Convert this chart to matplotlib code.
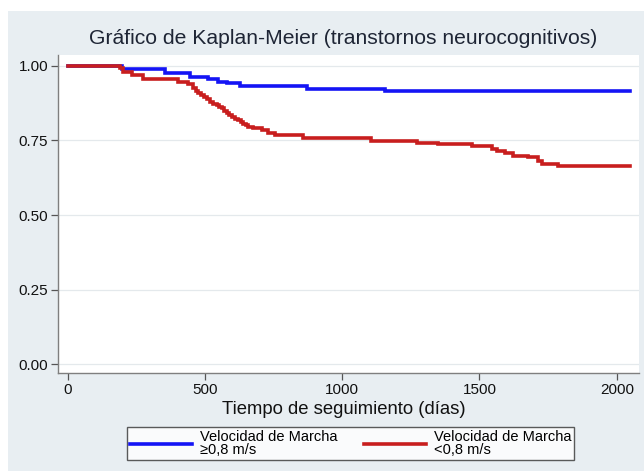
import matplotlib
matplotlib.use("Agg")
import matplotlib.pyplot as plt
from matplotlib.patches import Rectangle

plt.rcParams['font.family'] = ['Liberation Sans', 'DejaVu Sans']

# Kaplan-Meier step data (time in days, survival probability)
t_fast = [0, 197, 355, 446, 512, 548, 581, 628, 872, 1156, 2048]
s_fast = [1.000, 0.989, 0.975, 0.961, 0.954, 0.946, 0.941, 0.932, 0.921, 0.915, 0.915]

t_slow = [0, 191, 203, 234, 275, 402, 439, 458, 467, 476, 486, 495, 507, 519,
          531, 543, 552, 561, 570, 580, 589, 598, 610, 622, 631, 640, 649, 658,
          677, 707, 731, 756, 859, 1105, 1272, 1349, 1472, 1545, 1563, 1593,
          1622, 1677, 1713, 1727, 1786, 2048]
s_slow = [1.000, 0.991, 0.980, 0.969, 0.954, 0.946, 0.939, 0.924, 0.916, 0.908,
          0.902, 0.896, 0.887, 0.879, 0.873, 0.868, 0.862, 0.857, 0.849, 0.841,
          0.835, 0.829, 0.823, 0.818, 0.811, 0.804, 0.800, 0.796, 0.790, 0.785,
          0.774, 0.768, 0.759, 0.749, 0.742, 0.737, 0.732, 0.720, 0.714, 0.707,
          0.698, 0.693, 0.681, 0.671, 0.664, 0.664]

labels = ["Velocidad de Marcha\n\u22650,8 m/s", "Velocidad de Marcha\n<0,8 m/s"]
x_ticks = [0, 500, 1000, 1500, 2000]
y_ticks = [0.00, 0.25, 0.50, 0.75, 1.00]

title = "Gráfico de Kaplan-Meier (transtornos neurocognitivos)"
xlabel = "Tiempo de seguimiento (días)"

W, H = 644, 471
bg = "#e8eef2"
fig = plt.figure(figsize=(W / 100, H / 100), dpi=100, facecolor=bg)

# white screenshot borders
fig.patches.append(Rectangle((0, 1 - 11 / H), 1, 11 / H, transform=fig.transFigure,
                             facecolor="white", edgecolor="none", zorder=-1))
fig.patches.append(Rectangle((0, 0), 8 / W, 1, transform=fig.transFigure,
                             facecolor="white", edgecolor="none", zorder=-1))

ax = fig.add_axes([58 / W, 1 - 373 / H, (639 - 58) / W, (373 - 55) / H])
ax.set_facecolor("white")

ax.step(t_fast, s_fast, where="post", color="#1414f5", lw=2.6, label=labels[0],
        solid_joinstyle="miter")
ax.step(t_slow, s_slow, where="post", color="#c81e1e", lw=2.6, label=labels[1],
        solid_joinstyle="miter")

ax.set_xlim(-35, 2081)
ax.set_ylim(-0.029, 1.036)
ax.set_xticks(x_ticks)
ax.set_xticklabels([str(v) for v in x_ticks])
ax.set_yticks(y_ticks)
ax.set_yticklabels([f"{v:.2f}" for v in y_ticks])

for v in y_ticks:
    ax.axhline(v, color="#e4e9ec", lw=0.9, zorder=0)

for side in ["top", "right"]:
    ax.spines[side].set_visible(False)
for side in ["left", "bottom"]:
    ax.spines[side].set_color("#7f7f7f")
    ax.spines[side].set_linewidth(1.0)

ax.tick_params(axis="both", direction="out", length=5, width=0.9, color="#555555",
               labelsize=11, labelcolor="#111111", pad=2)

fig.text(343 / W, 1 - 38 / H, title, ha="center", va="center", fontsize=15.2,
         color="#1e2535")
fig.text(344 / W, 1 - 409 / H, xlabel, ha="center", va="center", fontsize=13.3,
         color="#111111")

leg = fig.legend(loc="center", bbox_to_anchor=(350.5 / W, 1 - 443.5 / H), ncol=2,
                 fontsize=10.5, frameon=True, fancybox=False, handlelength=4.25,
                 handletextpad=0.55, columnspacing=1.8, borderpad=0.2,
                 labelspacing=0.2)
leg.get_frame().set_edgecolor("#333333")
leg.get_frame().set_linewidth(1.0)
leg.get_frame().set_facecolor("white")
for txt in leg.get_texts():
    txt.set_linespacing(0.9)

fig.savefig("out.png", dpi=100, facecolor=bg)
